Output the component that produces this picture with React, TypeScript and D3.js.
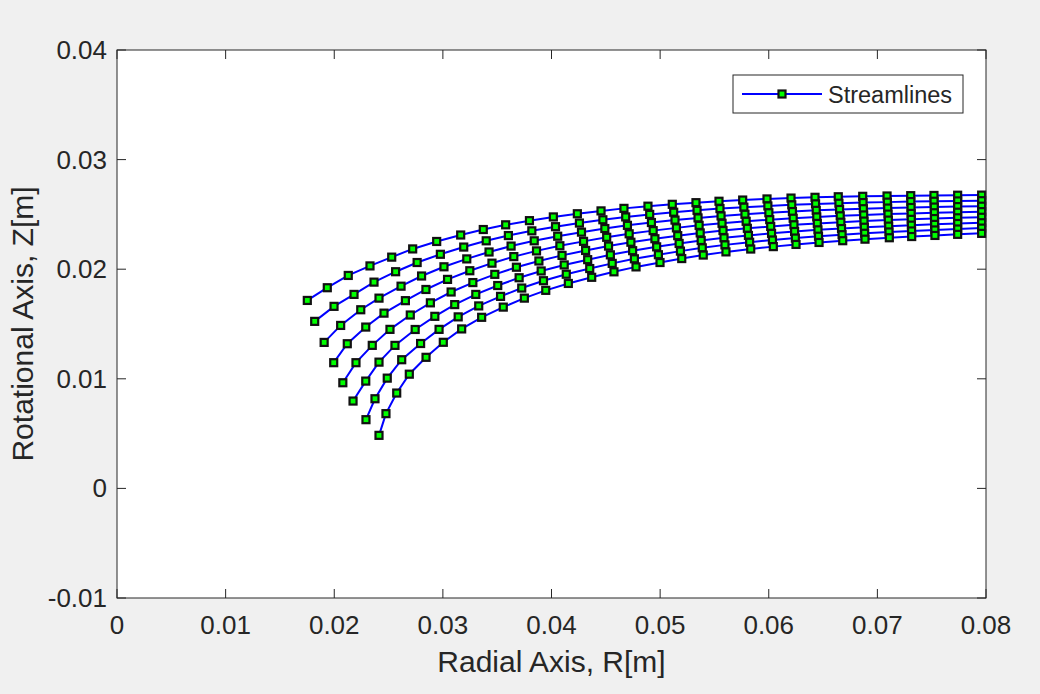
import React from 'react';
import * as d3 from 'd3';

// Streamlines: radial coordinate R [m] and rotational-axis coordinate Z [m]
const streamlineR1 = [0.01752, 0.01936, 0.02129, 0.02329, 0.02529, 0.02722, 0.02943, 0.03164, 0.03372, 0.03578, 0.03797, 0.04017, 0.04238, 0.04456, 0.04667, 0.04888, 0.05112, 0.0533, 0.05542, 0.0576, 0.05984, 0.06205, 0.06426, 0.0664, 0.06865, 0.07089, 0.07307, 0.07521, 0.07739, 0.0796];
const streamlineZ1 = [0.01715, 0.01831, 0.01943, 0.0203, 0.0211, 0.02185, 0.02253, 0.02312, 0.02362, 0.02405, 0.02443, 0.02477, 0.02506, 0.02532, 0.02555, 0.02575, 0.02592, 0.02607, 0.0262, 0.02631, 0.02641, 0.02649, 0.02656, 0.02661, 0.02665, 0.02668, 0.02671, 0.02673, 0.02675, 0.02676];

const streamlineR2 = [0.0182, 0.01998, 0.02182, 0.02366, 0.02565, 0.02763, 0.02977, 0.03192, 0.03399, 0.03603, 0.03819, 0.04037, 0.04257, 0.04473, 0.04683, 0.04904, 0.05125, 0.0534, 0.05551, 0.05771, 0.05992, 0.06212, 0.06431, 0.06646, 0.06868, 0.07092, 0.07308, 0.07522, 0.07739, 0.0796];
const streamlineZ2 = [0.01524, 0.01661, 0.0177, 0.01882, 0.01977, 0.02061, 0.02136, 0.02202, 0.02259, 0.02307, 0.0235, 0.02388, 0.02421, 0.02451, 0.02477, 0.025, 0.0252, 0.02537, 0.02553, 0.02566, 0.02577, 0.02587, 0.02596, 0.02602, 0.02608, 0.02612, 0.02617, 0.0262, 0.02623, 0.02625];

const streamlineR3 = [0.01907, 0.02059, 0.02244, 0.02412, 0.02615, 0.02804, 0.0301, 0.0322, 0.03425, 0.03628, 0.03841, 0.04057, 0.04276, 0.04491, 0.04699, 0.0492, 0.05137, 0.05349, 0.05561, 0.05781, 0.06001, 0.06218, 0.06437, 0.06652, 0.06871, 0.07095, 0.0731, 0.07524, 0.07739, 0.0796];
const streamlineZ3 = [0.01332, 0.01487, 0.0163, 0.01736, 0.01845, 0.01938, 0.02022, 0.02094, 0.02157, 0.02211, 0.02259, 0.02301, 0.02338, 0.02371, 0.024, 0.02426, 0.02448, 0.02468, 0.02486, 0.02501, 0.02515, 0.02526, 0.02537, 0.02545, 0.02552, 0.02558, 0.02563, 0.02567, 0.02571, 0.02575];

const streamlineR4 = [0.01995, 0.0212, 0.0229, 0.02458, 0.02655, 0.02844, 0.03043, 0.03248, 0.03452, 0.03653, 0.03862, 0.04077, 0.04295, 0.04508, 0.04715, 0.04936, 0.0515, 0.05359, 0.0557, 0.05792, 0.06009, 0.06225, 0.06442, 0.06658, 0.06874, 0.07098, 0.07311, 0.07525, 0.07739, 0.0796];
const streamlineZ4 = [0.01147, 0.0132, 0.01472, 0.01599, 0.01713, 0.01815, 0.01907, 0.01986, 0.02055, 0.02115, 0.02167, 0.02214, 0.02254, 0.02291, 0.02323, 0.02352, 0.02377, 0.024, 0.02419, 0.02437, 0.02452, 0.02465, 0.02477, 0.02487, 0.02495, 0.02503, 0.02509, 0.02515, 0.0252, 0.02525];

const streamlineR5 = [0.02079, 0.022, 0.0235, 0.02513, 0.027, 0.02885, 0.03076, 0.03276, 0.03478, 0.03677, 0.03884, 0.04097, 0.04314, 0.04525, 0.04731, 0.04952, 0.05162, 0.05369, 0.05579, 0.05803, 0.06018, 0.06232, 0.06447, 0.06664, 0.06877, 0.07101, 0.07312, 0.07526, 0.07739, 0.0796];
const streamlineZ5 = [0.00964, 0.01147, 0.01305, 0.01451, 0.01582, 0.01693, 0.01792, 0.01878, 0.01953, 0.02018, 0.02075, 0.02126, 0.02171, 0.02211, 0.02246, 0.02278, 0.02306, 0.02331, 0.02353, 0.02373, 0.0239, 0.02405, 0.02418, 0.02429, 0.02439, 0.02448, 0.02455, 0.02462, 0.02469, 0.02474];

const streamlineR6 = [0.02173, 0.0229, 0.02412, 0.02559, 0.02745, 0.02926, 0.03109, 0.03303, 0.03505, 0.03702, 0.03905, 0.04117, 0.04333, 0.04542, 0.04747, 0.04968, 0.05175, 0.05378, 0.05588, 0.05813, 0.06026, 0.06238, 0.06453, 0.0667, 0.0688, 0.07104, 0.07313, 0.07527, 0.07739, 0.0796];
const streamlineZ6 = [0.00797, 0.00979, 0.01152, 0.01305, 0.0145, 0.0157, 0.01677, 0.0177, 0.01851, 0.01922, 0.01984, 0.02039, 0.02087, 0.02131, 0.02169, 0.02204, 0.02235, 0.02262, 0.02286, 0.02308, 0.02327, 0.02344, 0.02359, 0.02371, 0.02383, 0.02393, 0.02402, 0.02409, 0.02417, 0.02424];

const streamlineR7 = [0.02292, 0.02375, 0.02488, 0.02621, 0.02795, 0.02965, 0.03141, 0.0333, 0.03531, 0.03726, 0.03926, 0.04136, 0.04352, 0.04559, 0.04763, 0.04984, 0.05187, 0.05388, 0.05597, 0.05824, 0.06034, 0.06245, 0.06458, 0.06675, 0.06883, 0.07107, 0.07315, 0.07529, 0.07739, 0.0796];
const streamlineZ7 = [0.00627, 0.00818, 0.01006, 0.01174, 0.01322, 0.01451, 0.01565, 0.01665, 0.01752, 0.01828, 0.01895, 0.01954, 0.02006, 0.02053, 0.02095, 0.02132, 0.02165, 0.02195, 0.02222, 0.02246, 0.02266, 0.02284, 0.02301, 0.02315, 0.02328, 0.0234, 0.02349, 0.02358, 0.02367, 0.02375];

const streamlineR8 = [0.02412, 0.02476, 0.02575, 0.02691, 0.02845, 0.03004, 0.03173, 0.03357, 0.03556, 0.0375, 0.03947, 0.04155, 0.0437, 0.04575, 0.04778, 0.04999, 0.05199, 0.05397, 0.05606, 0.05834, 0.06042, 0.06251, 0.06463, 0.06681, 0.06886, 0.0711, 0.07316, 0.0753, 0.07739, 0.0796];
const streamlineZ8 = [0.00484, 0.00682, 0.0087, 0.01042, 0.01196, 0.01333, 0.01455, 0.01561, 0.01654, 0.01736, 0.01807, 0.0187, 0.01926, 0.01976, 0.02021, 0.02061, 0.02097, 0.02129, 0.02158, 0.02184, 0.02206, 0.02226, 0.02244, 0.0226, 0.02274, 0.02287, 0.02298, 0.02308, 0.02318, 0.02327];

const xTicks = [0, 0.01, 0.02, 0.03, 0.04, 0.05, 0.06, 0.07, 0.08];
const yTicks = [-0.01, 0, 0.01, 0.02, 0.03, 0.04];
const xLabel = 'Radial Axis, R[m]';
const yLabel = 'Rotational Axis, Z[m]';
const legendLabel = 'Streamlines';

const FONT = '"Liberation Sans", Arial, Helvetica, sans-serif';
const AXIS = '#262626';

export default function App() {
  const W = 1040;
  const H = 694;
  const left = 117, right = 986, top = 50, bottom = 598;
  const x = d3.scaleLinear().domain([0, 0.08]).range([left, right]);
  const y = d3.scaleLinear().domain([-0.01, 0.04]).range([bottom, top]);

  const lines = [
    [streamlineR1, streamlineZ1],
    [streamlineR2, streamlineZ2],
    [streamlineR3, streamlineZ3],
    [streamlineR4, streamlineZ4],
    [streamlineR5, streamlineZ5],
    [streamlineR6, streamlineZ6],
    [streamlineR7, streamlineZ7],
    [streamlineR8, streamlineZ8],
  ].map(([R, Z]) => R.map((r, i) => [r, Z[i]] as [number, number]));

  const lineGen = d3.line<[number, number]>().x(d => x(d[0])).y(d => y(d[1]));
  const fmt = (v: number) => String(+v.toFixed(2));
  const tickLen = 9;
  const ms = 7;
  const mStroke = 2.2;
  const lw = 2;

  const lx1 = 742, lx2 = 822, ly = 94;

  return (
    <svg width={W} height={H} style={{ position: 'absolute', left: 0, top: 0, background: '#f0f0f0', fontFamily: FONT }}>
      <rect x={0} y={0} width={W} height={H} fill="#f0f0f0" />
      <rect x={left} y={top} width={right - left} height={bottom - top} fill="#ffffff" />

      {/* data */}
      <g>
        {lines.map((pts, k) => (
          <g key={k}>
            <path d={lineGen(pts) || ''} fill="none" stroke="#0000ff" strokeWidth={lw} />
            {pts.map((p, i) => (
              <rect key={i} x={x(p[0]) - ms / 2} y={y(p[1]) - ms / 2} width={ms} height={ms}
                fill="#00ff00" stroke="#111111" strokeWidth={mStroke} />
            ))}
          </g>
        ))}
      </g>

      {/* ticks */}
      <g stroke={AXIS} strokeWidth={1}>
        {xTicks.map(t => (
          <g key={'xt' + t}>
            <line x1={x(t)} x2={x(t)} y1={bottom} y2={bottom - tickLen} />
            <line x1={x(t)} x2={x(t)} y1={top} y2={top + tickLen} />
          </g>
        ))}
        {yTicks.map(t => (
          <g key={'yt' + t}>
            <line x1={left} x2={left + tickLen} y1={y(t)} y2={y(t)} />
            <line x1={right} x2={right - tickLen} y1={y(t)} y2={y(t)} />
          </g>
        ))}
      </g>
      <rect x={left} y={top} width={right - left} height={bottom - top} fill="none" stroke={AXIS} strokeWidth={1} />

      {/* tick labels */}
      <g fill={AXIS} fontSize={26}>
        {xTicks.map(t => (
          <text key={'xl' + t} x={x(t)} y={bottom + 36} textAnchor="middle">{fmt(t)}</text>
        ))}
        {yTicks.map(t => (
          <text key={'yl' + t} x={left - 10} y={y(t) + 9} textAnchor="end">{fmt(t)}</text>
        ))}
      </g>

      {/* axis labels */}
      <text x={(left + right) / 2} y={672} textAnchor="middle" fontSize={30} fill={AXIS}>{xLabel}</text>
      <text transform={`translate(33, ${(top + bottom) / 2}) rotate(-90)`} textAnchor="middle" fontSize={30} fill={AXIS}>{yLabel}</text>

      {/* legend */}
      <rect x={733} y={75} width={230} height={38} fill="#ffffff" stroke={AXIS} strokeWidth={1} />
      <line x1={lx1} x2={lx2} y1={ly} y2={ly} stroke="#0000ff" strokeWidth={lw} />
      <rect x={(lx1 + lx2) / 2 - ms / 2} y={ly - ms / 2} width={ms} height={ms} fill="#00ff00" stroke="#111111" strokeWidth={mStroke} />
      <text x={828} y={103} fontSize={23.5} fill={AXIS}>{legendLabel}</text>
    </svg>
  );
}
